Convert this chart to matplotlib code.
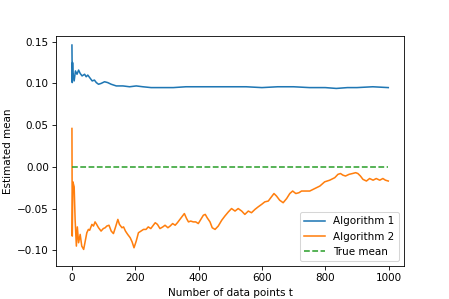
import numpy as np
import matplotlib.pyplot as plt

# Algorithm 1 (blue)
t1 = [0, 1, 2, 3, 7, 11, 16, 21, 26, 32, 40, 45, 50, 58, 64, 71, 77, 84, 92, 103,
      113, 124, 140, 161, 182, 203, 224, 250, 280, 320, 360, 400, 450, 500, 550,
      600, 650, 700, 750, 800, 835, 870, 900, 950, 999]
alg1 = [0.146, 0.101, 0.125, 0.113, 0.103, 0.115, 0.111, 0.116, 0.112, 0.109,
        0.111, 0.108, 0.110, 0.106, 0.103, 0.104, 0.101, 0.099, 0.100, 0.102,
        0.101, 0.099, 0.097, 0.097, 0.096, 0.097, 0.096, 0.095, 0.095, 0.095,
        0.096, 0.096, 0.096, 0.096, 0.096, 0.095, 0.096, 0.096, 0.095, 0.095,
        0.094, 0.095, 0.095, 0.096, 0.095]

# Algorithm 2 (orange)
t2 = [0, 1, 3, 7, 10, 14, 17, 21, 26, 31, 37, 42, 47, 52, 56, 63, 68, 73, 78, 84,
      92, 99, 105, 110, 117, 124, 131, 137, 145, 150, 158, 163, 169, 176, 184, 190,
      196, 203, 210, 218, 226, 234, 241, 249, 255, 263, 270, 278, 287, 294, 303,
      310, 318, 326, 333, 341, 349, 355, 362, 368, 375, 383, 391, 399, 407, 415,
      421, 427, 436, 443, 452, 462, 473, 483, 494, 504, 515, 525, 536, 546, 557,
      567, 578, 588, 599, 609, 620, 630, 638, 646, 656, 667, 678, 688, 697, 707,
      717, 725, 735, 751, 767, 783, 798, 814, 830, 840, 848, 856, 864, 875, 886,
      896, 903, 911, 919, 930, 940, 951, 961, 972, 982, 990, 999]
alg2 = [0.046, -0.083, -0.018, -0.024, -0.063, -0.095, -0.072, -0.091, -0.081,
        -0.095, -0.099, -0.089, -0.079, -0.075, -0.076, -0.069, -0.071, -0.066,
        -0.069, -0.073, -0.077, -0.074, -0.073, -0.071, -0.070, -0.077, -0.080,
        -0.073, -0.063, -0.069, -0.073, -0.072, -0.077, -0.081, -0.085, -0.090,
        -0.097, -0.089, -0.079, -0.077, -0.075, -0.075, -0.072, -0.074, -0.071,
        -0.067, -0.069, -0.074, -0.072, -0.070, -0.073, -0.071, -0.068, -0.070,
        -0.067, -0.063, -0.059, -0.056, -0.062, -0.066, -0.065, -0.066, -0.066,
        -0.068, -0.063, -0.058, -0.057, -0.061, -0.066, -0.073, -0.075, -0.071,
        -0.064, -0.059, -0.054, -0.050, -0.053, -0.050, -0.053, -0.057, -0.053,
        -0.055, -0.051, -0.048, -0.045, -0.042, -0.041, -0.036, -0.032, -0.035,
        -0.040, -0.043, -0.038, -0.032, -0.029, -0.032, -0.031, -0.029, -0.029,
        -0.029, -0.026, -0.023, -0.018, -0.016, -0.013, -0.009, -0.008, -0.010,
        -0.011, -0.009, -0.008, -0.007, -0.008, -0.011, -0.015, -0.017, -0.014,
        -0.016, -0.014, -0.016, -0.014, -0.016, -0.017]

true_t = [0, 999]
true_mean = [0.0, 0.0]

fig = plt.figure(figsize=(449 / 75, 299 / 75), dpi=75)
plt.plot(t1, alg1, label='Algorithm 1')
plt.plot(t2, alg2, label='Algorithm 2')
plt.plot(true_t, true_mean, '--', label='True mean')
plt.ylim(-0.119, 0.157)
plt.xlabel('Number of data points t')
plt.ylabel('Estimated mean')
plt.legend(loc='lower right')
plt.savefig('out.png', dpi=75)
